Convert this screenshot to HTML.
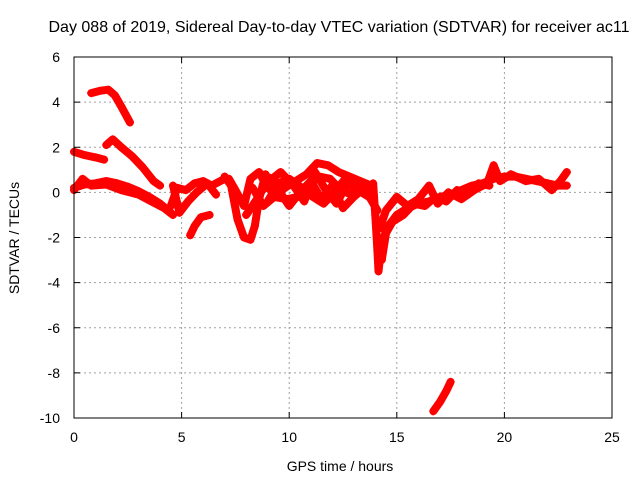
<!DOCTYPE html>
<html><head><meta charset="utf-8"><style>
body{margin:0;background:#fff}
svg{display:block;font-family:"Liberation Sans",sans-serif;font-size:14px}
</style></head><body>
<svg id="c" width="640" height="480">
<rect width="640" height="480" fill="#fff"/>
<g id="grid"></g><g id="marks"></g><g id="axes"></g>
</svg>
<script>
const xTicks=[0,5,10,15,20,25];
const yTicks=[6,4,2,0,-2,-4,-6,-8,-10];
const track1=[[0.8,4.4],[1.2,4.5],[1.6,4.55],[1.9,4.3],[2.2,3.8],[2.6,3.1]];
const track2=[[0,1.8],[0.5,1.65],[1,1.55],[1.4,1.45]];
const track3=[[1.5,2.1],[1.8,2.35],[2.2,2.0],[2.7,1.6],[3.2,1.1],[3.7,0.5],[4,0.3]];
const track4=[[0,0.2],[0.5,0.35],[1,0.4],[1.5,0.5],[2,0.4],[2.5,0.25],[3,0.05],[3.5,-0.2],[4,-0.5],[4.5,-0.9]];
const track5=[[0,0.1],[0.4,0.6],[0.8,0.3],[1.5,0.35],[2.2,0.1],[3,-0.1],[3.6,-0.4],[4.2,-0.7],[4.6,-1.0]];
const track6=[[4.5,-0.6],[4.8,0.2],[5.2,0.1],[5.6,0.4],[6,0.5],[6.4,0.3],[7,0.6]];
const track7=[[4.6,0.3],[4.9,-0.9],[5.3,-0.4],[5.7,0],[6.2,0.4],[6.6,-0.1]];
const track8=[[5.4,-1.9],[5.6,-1.5],[5.9,-1.1],[6.3,-1.0]];
const track9=[[7,0.7],[7.3,0.3],[7.6,-1.2],[7.9,-2.0],[8.2,-2.1],[8.4,-1.5],[8.6,-0.3],[8.9,0.8]];
const track10=[[7.2,0.6],[7.5,0.1],[7.9,-0.6],[8.2,0.6],[8.6,0.9],[9,0.2],[9.4,-0.1],[9.8,0.2],[10.3,0.5],[10.8,0.8],[11.3,1.3],[11.8,1.2],[12.3,0.9],[12.8,0.7],[13.3,0.5],[13.8,0.3]];
const track11=[[8,-1.0],[8.5,-0.3],[9,0.5],[9.5,0.1],[10,-0.6],[10.5,0],[11,0.5],[11.5,-0.3],[12,0.3],[12.5,-0.7],[13,-0.2],[13.5,0.2]];
const track12=[[8.7,0.8],[9.2,0.6],[9.6,0.9],[10.2,0.3],[10.7,-0.4],[11.2,0.9],[11.7,0.1],[12.2,-0.5],[12.7,0.4],[13.2,0.1],[13.7,-0.2]];
const track13=[[13.9,0.4],[14.0,-1.0],[14.1,-2.6],[14.15,-3.5],[14.3,-2.2],[14.6,-1.5],[15,-1.0],[15.5,-0.7],[16,-0.5],[16.5,-0.4],[17,-0.2],[17.5,-0.1],[18,0.1],[18.5,0.3],[19,0.4],[19.5,0.6],[20,0.7],[20.5,0.7],[21,0.6],[21.5,0.5],[22,0.4],[22.5,0.3],[22.9,0.3]];
const track14=[[14.2,-1.6],[14.5,-0.8],[15,-0.2],[15.5,-0.6],[16,-0.3],[16.5,0.3],[16.9,-0.5],[17.4,0],[18,-0.3],[18.6,0.1],[19.2,0.4],[19.5,1.2],[19.8,0.5],[20.3,0.8],[21,0.5],[21.6,0.6],[22.2,0.1],[22.6,0.5],[22.9,0.9]];
const track15=[[16.7,-9.7],[17,-9.3],[17.3,-8.8],[17.5,-8.4]];
const track16=[[8.3,0.2],[8.8,-0.6],[9.3,-0.2],[9.9,-0.3],[10.4,-0.2],[10.9,0.3],[11.4,0.7],[11.9,0.6],[12.4,0.1],[12.9,-0.1],[13.4,0.4],[13.9,0.2]];
const track17=[[9,-0.4],[9.5,0.4],[10,0.6],[10.6,0.2],[11.1,-0.2],[11.6,-0.5],[12.1,0.0],[12.6,0.6],[13.1,0.3],[13.6,0.0],[14.1,-0.8]];
const track18=[[14.3,-3.0],[14.5,-1.8],[14.8,-1.3],[15.3,-1.0],[15.8,-0.5],[16.3,-0.6],[16.8,-0.2],[17.3,-0.4],[17.8,0.1],[18.3,-0.1],[18.8,0.4],[19.3,0.3]];
const tracks=[track1,track2,track3,track4,track5,track6,track7,track8,track9,track10,track11,track12,track13,track14,track15,track16,track17,track18];
const L=74,R=612,T=57,B=418,xMin=0,xMax=25,yMin=-10,yMax=6;
const xs=v=>L+(v-xMin)/(xMax-xMin)*(R-L);
const ys=v=>B-(v-yMin)/(yMax-yMin)*(B-T);
const NS='http://www.w3.org/2000/svg';
function mk(t,a,p){const e=document.createElementNS(NS,t);for(const k in a)e.setAttribute(k,a[k]);p.appendChild(e);return e;}
const grid=document.getElementById('grid'),axes=document.getElementById('axes'),marks=document.getElementById('marks');
xTicks.forEach(v=>{const x=xs(v);
 if(v>xMin&&v<xMax){const g=mk('line',{x1:x,x2:x,y1:T,y2:B,stroke:'#a0a0a0','stroke-dasharray':'2,3'},grid);
 }
 mk('line',{x1:x,x2:x,y1:B,y2:B-6,stroke:'#000'},axes);mk('line',{x1:x,x2:x,y1:T,y2:T+6,stroke:'#000'},axes);
 const t=mk('text',{x:x,y:B+24,'text-anchor':'middle'},axes);t.textContent=v;
 });
yTicks.forEach(v=>{const y=ys(v);
 if(v>yMin&&v<yMax){const g=mk('line',{x1:L,x2:R,y1:y,y2:y,stroke:'#a0a0a0','stroke-dasharray':'2,3'},grid);
 }
 mk('line',{x1:L,x2:L+6,y1:y,y2:y,stroke:'#000'},axes);mk('line',{x1:R,x2:R-6,y1:y,y2:y,stroke:'#000'},axes);
 const t=mk('text',{x:L-14,y:y+5,'text-anchor':'end'},axes);t.textContent=v;
 });
const fr=mk('rect',{x:L,y:T,width:R-L,height:B-T,fill:'none',stroke:'#000'},axes);

tracks.forEach(tr=>{
 const pl=mk('polyline',{points:tr.map(p=>xs(p[0])+','+ys(p[1])).join(' '),fill:'none',stroke:'#f00','stroke-width':8,'stroke-linejoin':'round','stroke-linecap':'round'},marks);
 
 tr.forEach(p=>{const x=xs(p[0]),y=ys(p[1]);
  const m=mk('path',{d:`M${x-4},${y}h8M${x},${y-4}v8`,stroke:'#f00','stroke-width':1.5},marks);
  });
});
const ti=mk('text',{x:339,y:32,'text-anchor':'middle','font-size':'16'},axes);ti.textContent='Day 088 of 2019, Sidereal Day-to-day VTEC variation (SDTVAR) for receiver ac11';

const xl=mk('text',{x:340,y:471,'text-anchor':'middle'},axes);xl.textContent='GPS time / hours';

const yl=mk('text',{x:0,y:0,'text-anchor':'middle',transform:'translate(19,238) rotate(-90)'},axes);yl.textContent='SDTVAR / TECUs';

</script>
</body></html>
